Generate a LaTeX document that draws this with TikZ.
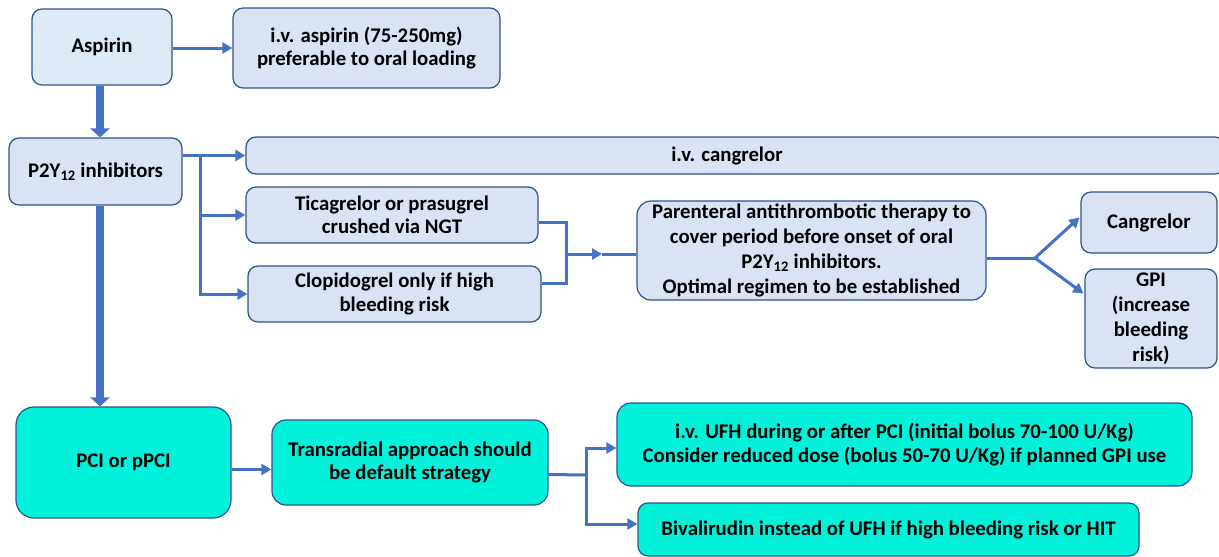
\documentclass[tikz,border=0pt]{standalone}
\usepackage{fontspec}
\setmainfont{Carlito}
\usetikzlibrary{arrows.meta,calc}
\definecolor{boxblue}{HTML}{DAE3F3}
\definecolor{boxlight}{HTML}{DEEBF7}
\definecolor{boxedge}{HTML}{2F528F}
\definecolor{boxcyan}{HTML}{00F2DA}
\definecolor{arrowblue}{HTML}{4472C4}
\begin{document}
\begin{tikzpicture}[x=1pt,y=-1pt,
  box/.style={draw=boxedge,line width=1.2pt,fill=boxblue,rounded corners=10pt,
    inner sep=0pt,align=center,font=\fontsize{20.8}{23.5}\selectfont\bfseries},
  cbox/.style={box,fill=boxcyan},
  conn/.style={draw=arrowblue,line width=3pt},
  arr/.style={conn,-{Triangle[length=10pt,width=11pt]}},
  fat/.style={draw=arrowblue,line width=8pt,-{Triangle[length=9pt,width=19pt]}}]
\useasboundingbox (0,0) rectangle (1219,557);
\clip (0,0) rectangle (1219,557);

\node[box,fill=boxlight,minimum width=140pt,minimum height=76pt] (asp) at (102,47) {Aspirin};
\node[box,minimum width=267pt,minimum height=80pt] (ivasp) at (366.5,48) {i.v. aspirin (75-250mg)\\preferable to oral loading};
\node[box,minimum width=173pt,minimum height=67pt] (p2y) at (95.5,171.5) {P2Y\textsubscript{12} inhibitors};
\node[box,minimum width=979pt,minimum height=37pt] (cang) at (735.5,155.5) {};
\node[font=\fontsize{20.8}{23.5}\selectfont\bfseries] (cangtxt) at (727,156) {i.v. cangrelor};
\node[box,minimum width=292pt,minimum height=56pt] (tica) at (392,215) {Ticagrelor or prasugrel\\crushed via NGT};
\node[box,minimum width=293pt,minimum height=56pt] (clop) at (394.5,294) {Clopidogrel only if high\\bleeding risk};
\node[box,rounded corners=14pt,minimum width=349pt,minimum height=99pt,
  font=\fontsize{20.8}{25}\selectfont\bfseries] (par) at (811.5,250.5)
  {Parenteral antithrombotic therapy to\\cover period before onset of oral\\P2Y\textsubscript{12} inhibitors.\\Optimal regimen to be established};
\node[box,minimum width=136pt,minimum height=61pt] (cgr) at (1149,222.5) {Cangrelor};
\node[box,minimum width=132pt,minimum height=99pt,
  font=\fontsize{20.8}{25}\selectfont\bfseries] (gpi) at (1151,318.5) {GPI\\(increase\\bleeding\\risk)};
\node[cbox,rounded corners=18pt,minimum width=215pt,minimum height=111pt] (pci) at (123.5,462.5) {PCI or pPCI};
\node[cbox,rounded corners=14pt,minimum width=276pt,minimum height=85pt] (trans) at (410,462.5) {Transradial approach should\\be default strategy};
\node[cbox,rounded corners=14pt,minimum width=575pt,minimum height=83pt] (ufh) at (904.5,444.5) {i.v. UFH during or after PCI (initial bolus 70-100 U/Kg)\\Consider reduced dose (bolus 50-70 U/Kg) if planned GPI use};
\node[cbox,minimum width=501pt,minimum height=53pt] (biv) at (888.5,529.5) {Bivalirudin instead of UFH if high bleeding risk or HIT};

% thick vertical arrows
\coordinate (vx) at (100,0);
\draw[fat] (asp.south -| vx) -- (p2y.north -| vx);
\draw[fat] (p2y.south -| vx) -- (pci.north -| vx);

% aspirin
\draw[arr] (asp.east |- ivasp.west) -- (ivasp.west);

% P2Y12 fan
\coordinate (bx) at (200,155.5);
\draw[arr] (p2y.east |- cang.west) -- (cang.west);
\draw[arr] (bx) |- (tica.west);
\draw[arr] (bx) |- (clop.west);

% merge into parenteral
\coordinate (mx) at (566,254);
\coordinate (mtip) at (602,254);
\draw[conn] ($(tica.east)+(0,7)$) -| (mx);
\draw[conn] ($(clop.east)+(0,-11)$) -| (mx);
\draw[arr] (mx) -- (mtip);
\draw[conn] (mtip) -- (par.west |- mx);

% fork to cangrelor / GPI
\coordinate (fk) at (1035,258);
\draw[conn] (par.east |- fk) -- (fk);
\draw[arr] (fk) -- ($(cgr.west)+(-1,-5)$);
\draw[arr] (fk) -- ($(gpi.west)+(-1,-25)$);

% PCI row
\draw[arr] ($(pci.east)+(0,7)$) -- ($(trans.west)+(0,7)$);
\coordinate (tx) at (586,475);
\draw[conn] ($(trans.east)+(0,12)$) -- (tx);
\draw[arr] (tx) |- ($(ufh.west)+(0,3.5)$);
\draw[arr] (tx) |- ($(biv.west)+(0,-5.5)$);
\end{tikzpicture}
\end{document}
